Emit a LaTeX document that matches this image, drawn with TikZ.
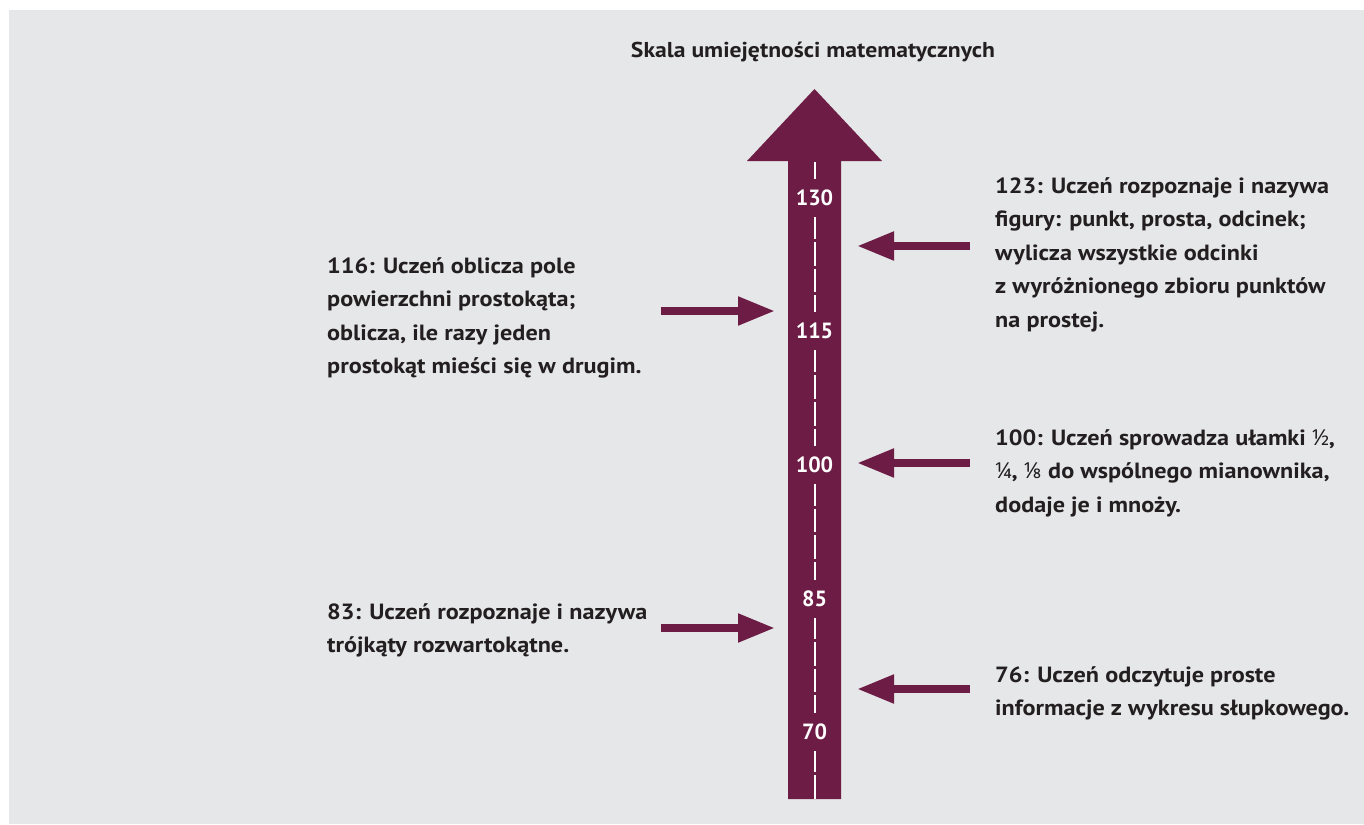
\documentclass[tikz,border=0pt]{standalone}
\usepackage{fontspec}
\setmainfont{PT Sans}[FakeStretch=1.1]
\newfontfamily\tickfont{PT Sans}
\newfontfamily\fracfont{Noto Sans}
\usetikzlibrary{positioning,arrows.meta}
\definecolor{scalepurple}{HTML}{6D1D45}
\definecolor{panelgrey}{HTML}{E6E7E8}
\definecolor{textgrey}{HTML}{231F20}

\begin{document}
\begin{tikzpicture}[x=1pt,y=-1pt,
    pointer/.style={-{Triangle[length=37pt,width=27pt]},line width=8pt,scalepurple},
    desc/.style={anchor=base west,align=left,inner sep=0pt,text=textgrey,
                 font=\fontsize{22}{33.5}\selectfont\bfseries},
    tick/.style={fill=scalepurple,text=white,inner sep=0pt,minimum width=44pt,
                 minimum height=38pt,font=\tickfont\fontsize{22}{26}\selectfont\bfseries},
    heading/.style={anchor=base,inner sep=0pt,text=textgrey,
                 font=\fontsize{21.5}{25}\selectfont\bfseries}]
\useasboundingbox (0,0) rectangle (1364,824);
\fill[white] (0,0) rectangle (1364,824);
\fill[panelgrey] (9,10) rectangle (1364,824);
% the scale
\fill[scalepurple] (788,799) -- (841,799) -- (841,161) -- (882,161)
      -- (814.5,89) -- (747,161) -- (788,161) -- cycle;
\coordinate (tip) at (814.5,89);
\coordinate (axistop) at (814.5,162);
\coordinate (axisbot) at (814.5,799);
\draw[white,line width=2pt,dash pattern=on 23.5pt off 3.17pt] (axistop) -- (axisbot);
\foreach \v/\y in {130/198,115/331,100/465,85/599,70/732}
  \node[tick] (v\v) at (814.5,\y) {\v};
\node[heading] (title) at (813,58) {Skala umiejętności matematycznych};
% pointers from the left
\foreach \n/\y in {116/311,83/628}{
  \coordinate (t\n) at (661,\y);
  \coordinate (h\n) at (775,\y);
  \draw[pointer] (t\n) -- (h\n);
}
% pointers from the right
\foreach \n/\y in {123/246,100/463,76/689}{
  \coordinate (t\n) at (970,\y);
  \coordinate (h\n) at (857,\y);
  \draw[pointer] (t\n) -- (h\n);
}
% texts, placed at the baseline of their last line
\node[desc] (d116) at (327,373.5) {116: Uczeń oblicza pole\\powierzchni prostokąta;\\oblicza, ile razy jeden\\prostokąt mieści się w drugim.};
\node[desc] (d83) at (327,652.5) {83: Uczeń rozpoznaje i nazywa\\trójkąty rozwartokątne.};
\node[desc] (d123) at (995,327) {123: Uczeń rozpoznaje i nazywa\\figury: punkt, prosta, odcinek;\\wylicza wszystkie odcinki\\z wyróżnionego zbioru punktów\\na prostej.};
\node[desc] (d100) at (995,512) {100: Uczeń sprowadza ułamki {\fracfont ½},\\{\fracfont ¼}, {\fracfont ⅛} do wspólnego mianownika,\\dodaje je i mnoży.};
\node[desc] (d76) at (995,715.5) {76: Uczeń odczytuje proste\\informacje z wykresu słupkowego.};
\end{tikzpicture}
\end{document}
